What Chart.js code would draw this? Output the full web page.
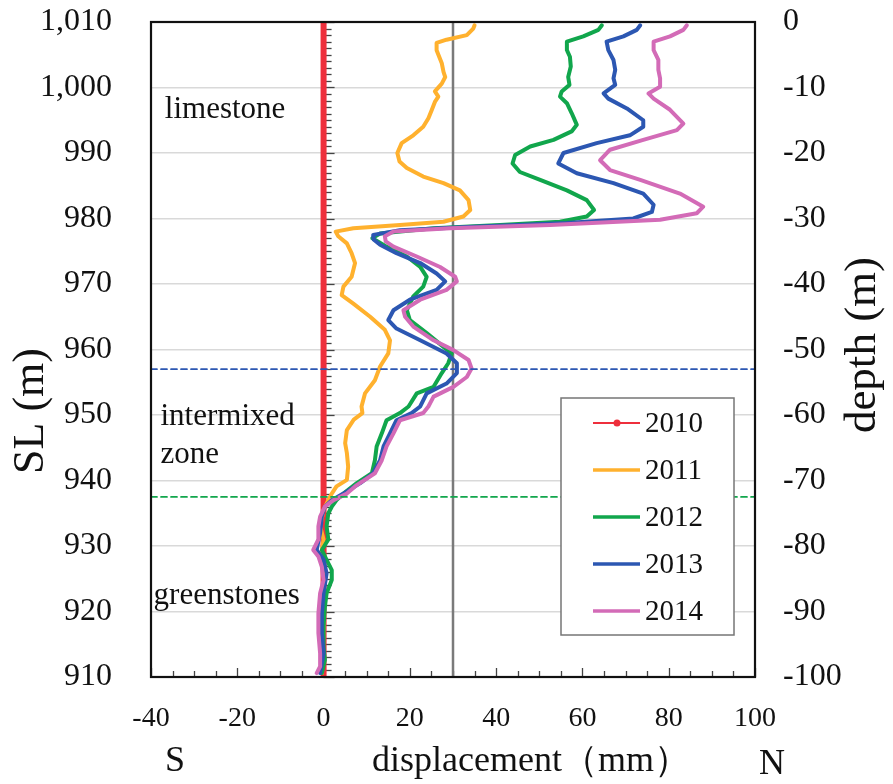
<!DOCTYPE html>
<html><head><meta charset="utf-8">
<script src="https://cdn.jsdelivr.net/npm/chart.js@4.4.1/dist/chart.umd.min.js"></script>
<style>html,body{margin:0;padding:0;background:#fff}#wrap{width:893px;height:784px}</style>
</head><body><div id="wrap"><canvas id="c" width="893" height="784"></canvas></div>
<script>
// ---- data (SL in m, displacement in mm) ----
const years = ['2010', '2011', '2012', '2013', '2014'];

const sl2010 = [1010, 1000, 990, 980, 970, 960, 950, 940, 930, 920, 910];
const disp2010 = [0, 0, 0, 0, 0, 0, 0, 0, 0, 0, 0];

const sl2011 = [1009.5,1009.0,1008.0,1007.3,1006.8,1005.7,1004.7,1003.7,1002.4,1001.6,1000.6,999.4,998.6,997.8,996.6,995.3,994.0,992.7,991.5,990.0,988.7,987.7,986.4,985.4,984.3,982.8,981.3,980.3,979.5,979.0,978.5,978.0,977.3,976.2,974.7,973.2,971.1,969.6,968.3,967.0,965.0,963.0,961.4,959.4,957.4,955.3,953.3,951.3,950.3,949.3,947.7,945.7,944.2,942.1,940.1,939.1,938.0,937.0,935.5,933.0,931.0,929.4,926.5,922.8,917.7,913.0,910.6];
const disp2011 = [35.0,34.7,33.2,28.5,26.2,26.2,26.8,27.4,27.8,28.2,27.4,25.8,26.6,25.8,25.1,24.3,23.1,20.8,18.1,17.1,17.6,19.3,23.1,27.8,31.6,33.6,34.0,32.4,27.8,17.7,6.9,2.8,3.4,5.4,6.5,7.3,6.5,4.6,4.2,6.9,10.8,14.2,15.4,15.0,13.1,11.9,9.6,8.8,9.0,7.0,5.4,5.0,5.4,5.7,5.4,3.0,1.9,1.1,0.0,-0.8,0.0,-0.4,0.3,0.0,0.0,-0.2,-0.4];

const sl2012 = [1009.5,1008.8,1007.8,1007.0,1005.7,1004.7,1003.2,1001.6,1000.4,999.4,998.6,997.6,996.1,994.3,993.3,992.0,991.0,989.7,988.4,987.1,985.9,984.3,982.8,981.3,980.3,979.5,979.0,978.5,977.7,977.0,975.7,974.2,972.6,971.1,969.6,968.1,966.0,964.5,962.5,960.4,959.4,957.9,956.4,954.3,953.3,951.3,950.3,949.2,947.2,945.2,943.1,941.1,939.6,938.0,937.0,936.0,935.0,933.0,931.0,929.4,927.9,926.3,924.8,922.8,920.7,917.7,914.6,912.6,910.6];
const disp2012 = [64.5,63.7,60.2,56.4,56.4,57.1,57.3,56.7,57.0,55.2,54.8,56.4,57.5,58.7,57.5,53.3,47.9,44.4,43.8,45.5,50.2,56.4,61.0,62.7,61.0,54.8,40.9,25.5,13.1,11.3,14.6,19.3,22.4,23.9,23.1,20.8,19.3,20.0,23.9,27.8,29.7,28.9,27.4,25.5,21.6,19.7,17.7,14.6,13.5,12.3,11.9,11.2,7.7,4.6,3.0,1.9,1.1,0.7,1.1,-0.4,0.7,1.9,1.9,0.7,0.3,0.0,0.0,0.3,-0.4];

const sl2013 = [1009.5,1008.8,1007.8,1007.0,1005.7,1004.2,1002.7,1001.4,1000.4,999.1,998.3,996.8,995.0,994.0,992.7,991.5,990.0,988.4,986.9,985.4,983.8,982.1,981.0,980.0,979.3,978.7,978.2,977.5,976.8,976.0,974.7,973.2,971.6,970.4,969.1,967.6,966.0,964.5,963.2,961.4,959.4,957.9,956.4,954.8,953.3,951.3,950.3,949.2,947.2,945.2,943.1,941.1,939.6,938.0,937.0,936.0,934.5,932.0,929.4,927.9,925.8,922.8,919.7,916.7,913.6,910.6];
const disp2013 = [73.4,72.6,69.5,65.6,66.0,67.2,67.6,67.2,67.6,64.9,66.0,70.3,74.1,74.1,71.0,63.3,55.6,54.4,58.7,67.2,74.1,76.5,76.1,71.8,56.4,33.2,17.7,11.5,11.6,13.1,16.9,22.4,26.2,28.2,26.2,20.0,16.2,15.0,16.9,22.4,28.5,30.9,30.9,28.5,23.9,22.4,20.4,16.9,15.4,13.9,13.1,11.5,8.5,4.6,1.9,0.3,-0.4,-0.8,-1.6,0.0,0.7,0.0,-0.4,-0.4,0.0,-0.8];

const sl2014 = [1009.5,1008.8,1007.8,1007.0,1005.7,1004.2,1002.7,1001.4,1000.1,999.1,998.3,996.6,994.5,993.5,992.0,990.5,988.9,987.4,985.9,983.8,981.8,980.8,979.8,979.0,978.5,978.0,977.3,976.5,975.7,974.2,972.6,971.1,970.4,969.1,967.6,966.0,965.0,963.5,961.4,959.9,958.4,957.1,955.8,954.3,952.8,951.3,950.3,949.2,947.2,945.2,943.1,941.1,939.3,938.0,937.0,936.0,934.5,933.0,931.0,929.4,928.4,926.8,924.8,922.8,919.7,916.7,913.6,911.6,910.6];
const disp2014 = [84.2,83.4,80.3,76.5,76.5,77.6,77.6,78.0,78.0,75.3,76.5,80.3,83.4,81.9,74.1,66.4,64.1,66.4,73.4,82.6,88.0,86.5,78.0,52.5,29.3,16.2,14.2,14.4,16.2,21.6,27.0,30.5,30.9,28.5,22.4,18.5,18.9,20.8,25.5,30.1,33.6,34.3,33.2,30.1,25.5,24.3,23.1,17.7,16.2,14.6,13.5,11.9,7.7,5.4,2.3,0.3,-0.8,-1.2,-1.2,-2.4,-1.2,-0.4,0.0,-0.8,-1.2,-1.2,-0.8,-0.8,-1.6];

// reference vertical line (displacement, mm) and zone boundaries (SL, m)
const refLineDisp = [30, 30];
const refLineSL = [910, 1010];
const boundarySL = [957, 937.5];

// axes
const xTicks = [-40, -20, 0, 20, 40, 60, 80, 100];
const slTicks = [910, 920, 930, 940, 950, 960, 970, 980, 990, 1000, 1010];
const depthTicks = [-100, -90, -80, -70, -60, -50, -40, -30, -20, -10, 0];

const zoneLabels = [
  { lines: ['limestone'], sl: 995.4, disp: -36.8 },
  { lines: ['intermixed', 'zone'], sl: 948.5, disp: -37.8 },
  { lines: ['greenstones'], sl: 921.2, disp: -39.4 }
];

const colors = { '2010': '#ee2f3c', '2011': '#ffb12e', '2012': '#11a64c', '2013': '#2c57b2', '2014': '#d36bb7' };
const pts = (xs, ys) => xs.map((v, i) => ({ x: v, y: ys[i] }));
const SERIF = '"Liberation Serif", "Times New Roman", serif';

const seriesData = { '2010': [disp2010, sl2010], '2011': [disp2011, sl2011], '2012': [disp2012, sl2012], '2013': [disp2013, sl2013], '2014': [disp2014, sl2014] };
const orderMap = { '2010': 5, '2011': 4, '2012': 3, '2013': 2, '2014': 1 };

const datasets = years.map(y => ({
  label: y, legend: true, marker: y === '2010',
  data: pts(seriesData[y][0], seriesData[y][1]),
  borderColor: colors[y], backgroundColor: colors[y],
  borderWidth: y === '2010' ? 6 : 4,
  pointRadius: 0, showLine: true, tension: 0, order: orderMap[y]
}));
datasets.push({
  label: 'ref', data: pts(refLineDisp, refLineSL), borderColor: '#7a7a7a', borderWidth: 2.5,
  pointRadius: 0, showLine: true, order: 8
});
const bColors = ['#2c57b2', '#11a64c'];
boundarySL.forEach((s, i) => datasets.push({
  label: 'b' + i, data: pts([xTicks[0], xTicks[xTicks.length - 1]], [s, s]),
  borderColor: bColors[i], borderWidth: 1.7, borderDash: [6, 4], pointRadius: 0, showLine: true, order: 0
}));

const decor = {
  id: 'decor',
  beforeDatasetsDraw(chart) {
    const { ctx, chartArea: a } = chart;
    const xs = chart.scales.x, ys = chart.scales.y;
    ctx.save();
    ctx.strokeStyle = '#444'; ctx.lineWidth = 1.3;
    const x0 = xs.getPixelForValue(0);
    for (let v = slTicks[0]; v <= slTicks[slTicks.length - 1]; v += 1) {
      const py = Math.round(ys.getPixelForValue(v)) + 0.5;
      const len = v % 10 === 0 ? 11 : 8;
      ctx.beginPath(); ctx.moveTo(x0, py); ctx.lineTo(x0 + len, py); ctx.stroke();
    }
    for (let v = xTicks[0]; v <= xTicks[xTicks.length - 1]; v += 5) {
      const px = Math.round(xs.getPixelForValue(v)) + 0.5;
      const len = v % 20 === 0 ? 9 : 6;
      ctx.beginPath(); ctx.moveTo(px, a.bottom); ctx.lineTo(px, a.bottom - len); ctx.stroke();
    }
    ctx.restore();
  },
  afterDatasetsDraw(chart) {
    const { ctx, chartArea: a } = chart;
    const xs = chart.scales.x, ys = chart.scales.y;
    ctx.save();
    // frame
    ctx.strokeStyle = '#111'; ctx.lineWidth = 2.2;
    ctx.strokeRect(a.left, a.top, a.right - a.left, a.bottom - a.top);
    // zone labels
    ctx.fillStyle = '#111'; ctx.font = '31px ' + SERIF; ctx.textBaseline = 'alphabetic'; ctx.textAlign = 'left';
    zoneLabels.forEach(z => {
      z.lines.forEach((t, i) => ctx.fillText(t, xs.getPixelForValue(z.disp), ys.getPixelForValue(z.sl) + i * 38));
    });
    // legend
    const lx = 561, ly = 398, lw = 173, lh = 237;
    ctx.fillStyle = '#fff'; ctx.fillRect(lx, ly, lw, lh);
    ctx.strokeStyle = '#767676'; ctx.lineWidth = 1.5; ctx.strokeRect(lx, ly, lw, lh);
    const items = chart.data.datasets.filter(d => d.legend);
    items.forEach((d, i) => {
      const cy = 423 + i * 47;
      ctx.strokeStyle = d.borderColor; ctx.lineWidth = d.marker ? 2 : 3.5;
      ctx.beginPath(); ctx.moveTo(593, cy); ctx.lineTo(640, cy); ctx.stroke();
      if (d.marker) { ctx.fillStyle = d.borderColor; ctx.beginPath(); ctx.arc(617, cy, 3.5, 0, Math.PI * 2); ctx.fill(); }
      ctx.fillStyle = '#111'; ctx.font = '29px ' + SERIF; ctx.textBaseline = 'middle'; ctx.textAlign = 'left';
      ctx.fillText(d.label, 645, cy + 1);
    });
    // axis titles
    ctx.fillStyle = '#111'; ctx.textAlign = 'center'; ctx.textBaseline = 'middle';
    ctx.save(); ctx.translate(31, 411); ctx.rotate(-Math.PI / 2); ctx.font = '44px ' + SERIF; ctx.fillText('SL (m)', 0, 0); ctx.restore();
    ctx.save(); ctx.translate(863, 345); ctx.rotate(-Math.PI / 2); ctx.font = '45px ' + SERIF; ctx.fillText('depth (m)', 0, 0); ctx.restore();
    ctx.font = '36px ' + SERIF;
    ctx.fillText('S', 175, 762);
    ctx.fillText('displacement（mm）', 531, 762);
    ctx.fillText('N', 772, 765);
    ctx.restore();
  }
};

const noPad = s => { s.paddingTop = 0; s.paddingBottom = 0; s.paddingLeft = 0; s.paddingRight = 0; };

new Chart(document.getElementById('c'), {
  type: 'scatter',
  data: { datasets },
  options: {
    responsive: false, animation: false, devicePixelRatio: 1,
    layout: { padding: { top: 22, left: 0, right: 0, bottom: 0 } },
    plugins: { legend: { display: false }, tooltip: { enabled: false } },
    elements: { line: { borderCapStyle: 'round', borderJoinStyle: 'round' } },
    scales: {
      x: {
        type: 'linear', min: xTicks[0], max: xTicks[xTicks.length - 1],
        afterBuildTicks: s => { s.ticks = xTicks.map(v => ({ value: v })); },
        afterFit: s => { s.height = 107; noPad(s); },
        grid: { display: false, drawTicks: false }, border: { display: false },
        ticks: { padding: 25, color: '#111', font: { family: SERIF, size: 28 }, maxRotation: 0, callback: v => String(v) }
      },
      y: {
        type: 'linear', position: 'left', min: slTicks[0], max: slTicks[slTicks.length - 1],
        afterBuildTicks: s => { s.ticks = slTicks.map(v => ({ value: v })); },
        afterFit: s => { s.width = 151; noPad(s); },
        grid: { color: '#d9d9d9', lineWidth: 1.5, drawTicks: false }, border: { display: false },
        ticks: { padding: 39, color: '#111', font: { family: SERIF, size: 32 }, callback: v => Number(v).toLocaleString('en-US') }
      },
      y2: {
        type: 'linear', position: 'right', min: depthTicks[0], max: depthTicks[depthTicks.length - 1],
        afterBuildTicks: s => { s.ticks = depthTicks.map(v => ({ value: v })); },
        afterFit: s => { s.width = 138; noPad(s); },
        grid: { display: false, drawTicks: false }, border: { display: false },
        ticks: { padding: 28, color: '#111', font: { family: SERIF, size: 32 }, callback: v => String(v) }
      }
    }
  },
  plugins: [decor]
});
</script>
</body></html>
